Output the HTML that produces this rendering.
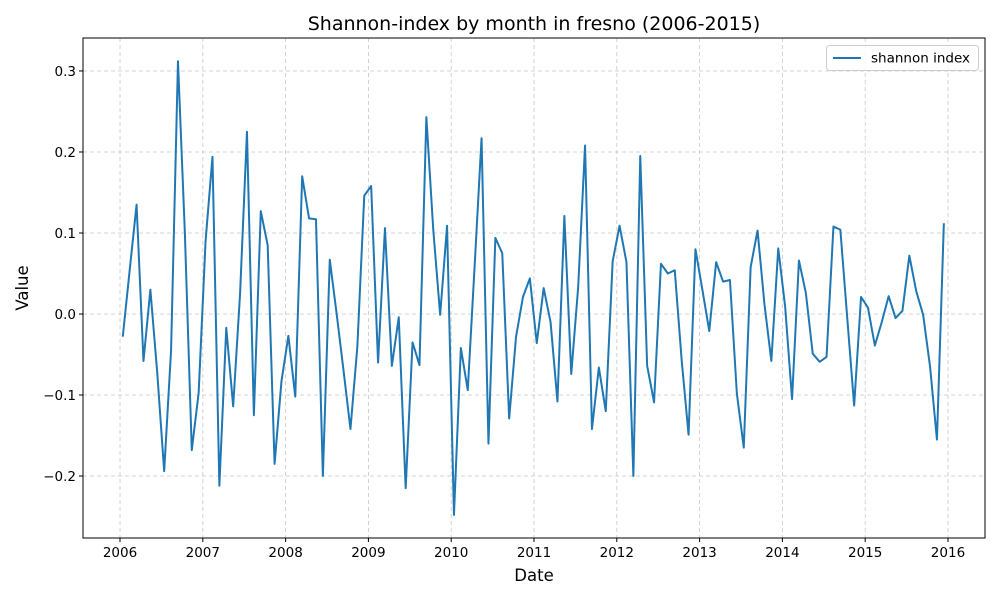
<!DOCTYPE html>
<html><head><meta charset="utf-8"><style>
body{margin:0;background:#fff;}
svg{display:block;font-family:"DejaVu Sans","Liberation Sans",sans-serif;}
</style></head><body>
<svg id="chart" width="1000" height="600" viewBox="0 0 1000 600">
<rect x="0" y="0" width="1000" height="600" fill="#fff"/>
<text x="534" y="30" font-size="19" text-anchor="middle" fill="#000">Shannon-index by month in fresno (2006-2015)</text>
<g id="grid"></g>
<g id="axes"></g>
<path id="series" fill="none" stroke="#1f77b4" stroke-width="2" stroke-linejoin="round"/>
<rect x="83" y="38" width="902" height="500" fill="none" stroke="#000" stroke-width="1"/>
<text x="534" y="581" font-size="16.5" text-anchor="middle">Date</text>
<text transform="translate(28,288) rotate(-90)" font-size="16.5" text-anchor="middle">Value</text>
<g>
<rect x="826.5" y="45.5" width="152" height="25" rx="3" fill="#fff" fill-opacity="0.8" stroke="#ccc"/>
<line x1="833" y1="58" x2="861" y2="58" stroke="#1f77b4" stroke-width="2"/>
<text x="871" y="62.5" font-size="13.5">shannon index</text>
</g>
</svg>
<script>
const values2006 = [-0.028,0.054,0.135,-0.058,0.03,-0.073,-0.194,-0.045,0.312,0.10,-0.168,-0.097];
const values2007 = [0.09,0.194,-0.212,-0.017,-0.114,0.025,0.225,-0.125,0.127,0.085,-0.185,-0.083];
const values2008 = [-0.027,-0.102,0.17,0.118,0.117,-0.2,0.067,0.0,-0.07,-0.142,-0.04,0.146];
const values2009 = [0.158,-0.06,0.106,-0.064,-0.004,-0.215,-0.035,-0.063,0.243,0.104,-0.001,0.109];
const values2010 = [-0.248,-0.042,-0.094,0.06,0.217,-0.16,0.094,0.075,-0.129,-0.028,0.021,0.044];
const values2011 = [-0.036,0.032,-0.01,-0.108,0.121,-0.074,0.033,0.208,-0.142,-0.066,-0.12,0.065];
const values2012 = [0.109,0.064,-0.2,0.195,-0.064,-0.109,0.062,0.05,0.054,-0.057,-0.149,0.08];
const values2013 = [0.03,-0.021,0.064,0.04,0.042,-0.098,-0.165,0.058,0.103,0.012,-0.058,0.081];
const values2014 = [0.009,-0.105,0.066,0.026,-0.049,-0.059,-0.053,0.108,0.104,-0.005,-0.113,0.021];
const values2015 = [0.008,-0.039,-0.01,0.022,-0.005,0.004,0.072,0.028,-0.001,-0.065,-0.155,0.112];
const startYear = 2006;
const xTickLabels = ["2006","2007","2008","2009","2010","2011","2012","2013","2014","2015","2016"];
const yTickValues = [-0.2,-0.1,0.0,0.1,0.2,0.3];
const yTickLabels = ["\u22120.2","\u22120.1","0.0","0.1","0.2","0.3"];

const NS="http://www.w3.org/2000/svg";
const L=83,R=985,T=38,B=538;
const xMin=2005.553,xMax=2016.447,yMin=-0.2765,yMax=0.3407;
function xs(v){return L+(v-xMin)/(xMax-xMin)*(R-L);}
function ys(v){return B-(v-yMin)/(yMax-yMin)*(B-T);}
const values=[].concat(values2006,values2007,values2008,values2009,values2010,values2011,values2012,values2013,values2014,values2015);
const grid=document.getElementById('grid'),axes=document.getElementById('axes');
function mk(tag,attrs,parent){const e=document.createElementNS(NS,tag);for(const k in attrs)e.setAttribute(k,attrs[k]);parent.appendChild(e);return e;}
xTickLabels.forEach(function(lab){
  const x=xs(+lab);
  const g=mk('line',{x1:x,x2:x,y1:T,y2:B,stroke:'#b0b0b0','stroke-width':0.8,'stroke-dasharray':'4,3','stroke-opacity':0.7},grid);
  
  
  mk('line',{x1:x,x2:x,y1:B,y2:B+4,stroke:'#000'},axes);
  const t=mk('text',{x:x,y:B+19,'font-size':13.5,'text-anchor':'middle'},axes);
  t.textContent=lab;
  
  
});
yTickValues.forEach(function(v,i){
  const y=ys(v);
  const g=mk('line',{x1:L,x2:R,y1:y,y2:y,stroke:'#b0b0b0','stroke-width':0.8,'stroke-dasharray':'4,3','stroke-opacity':0.7},grid);
  
  
  mk('line',{x1:L-4,x2:L,y1:y,y2:y,stroke:'#000'},axes);
  const t=mk('text',{x:L-7,y:y+5,'font-size':13.5,'text-anchor':'end'},axes);
  t.textContent=yTickLabels[i];
  
  
});
let d='';
values.forEach(function(v,i){
  const x=xs(startYear+(i+0.4)/12),y=ys(v);
  d+=(i?'L':'M')+x.toFixed(2)+','+y.toFixed(2);
});
document.getElementById('series').setAttribute('d',d);
</script>
</body></html>
